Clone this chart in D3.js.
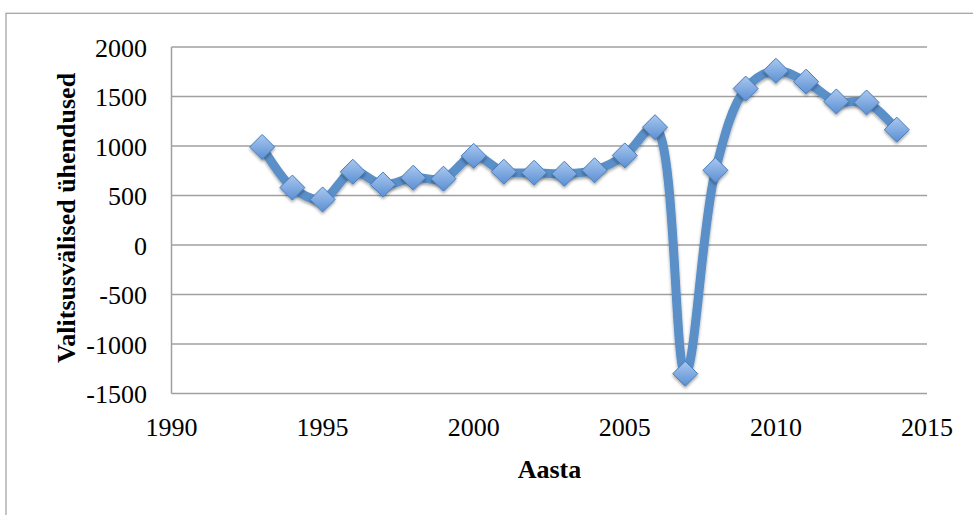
<!DOCTYPE html>
<html><head><meta charset="utf-8">
<script src="https://cdn.jsdelivr.net/npm/d3@7"></script>
<style>body{margin:0;background:#fff;}svg{display:block;}</style>
</head><body>
<script>
const years = [1993,1994,1995,1996,1997,1998,1999,2000,2001,2002,2003,2004,2005,2006,2007,2008,2009,2010,2011,2012,2013,2014];
const values = [990,580,460,740,610,680,670,900,740,730,720,755,905,1190,-1300,755,1580,1760,1650,1450,1440,1165];
const xTicks = [1990,1995,2000,2005,2010,2015];
const yTicks = [-1500,-1000,-500,0,500,1000,1500,2000];
const xTitle = "Aasta";
const yTitle = "Valitsusvälised ühendused";

const W=973,H=515;
const svg=d3.select("body").append("svg").attr("width",W).attr("height",H);
const defs=svg.append("defs");
const g1=defs.append("linearGradient").attr("id","mk").attr("x1",0).attr("y1",0).attr("x2",0).attr("y2",1);
g1.append("stop").attr("offset","0%").attr("stop-color","#a9c8ef");
g1.append("stop").attr("offset","100%").attr("stop-color","#5b8fd3");
const f=defs.append("filter").attr("id","sh").attr("x","-50%").attr("y","-50%").attr("width","200%").attr("height","200%");
f.append("feDropShadow").attr("dx",0).attr("dy",2).attr("stdDeviation",1.5).attr("flood-color","#000").attr("flood-opacity",0.35);

svg.append("rect").attr("x",6).attr("y",13.3).attr("width",990).attr("height",520).attr("fill","none").attr("stroke","#a6a6a6").attr("stroke-width",1.3);

const L=171.5,R=927,T=47,B=393.5;
const x=d3.scaleLinear().domain([1990,2015]).range([L,R]);
const y=d3.scaleLinear().domain([-1500,2000]).range([B,T]);
const font="'Liberation Serif','Times New Roman',serif";

svg.append("g").selectAll("line").data(yTicks).join("line")
 .attr("x1",L).attr("x2",R).attr("y1",d=>y(d)).attr("y2",d=>y(d))
 .attr("stroke","#a0a0a0").attr("stroke-width",1.5);
svg.append("line").attr("x1",L).attr("x2",L).attr("y1",T).attr("y2",B).attr("stroke","#a0a0a0").attr("stroke-width",1.5);

svg.append("g").selectAll("text").data(yTicks).join("text")
 .attr("x",147).attr("y",d=>y(d)+9.5).attr("text-anchor","end")
 .attr("font-family",font).attr("font-size",26).text(d=>d);
svg.append("g").selectAll("text").data(xTicks).join("text")
 .attr("x",d=>x(d)).attr("y",436).attr("text-anchor","middle")
 .attr("font-family",font).attr("font-size",26).text(d=>d);

svg.append("text").attr("x",549.5).attr("y",478).attr("text-anchor","middle")
 .attr("font-family",font).attr("font-size",26).attr("font-weight","bold").text(xTitle);
svg.append("text").attr("transform","translate(75,218) rotate(-90)").attr("text-anchor","middle")
 .attr("font-family",font).attr("font-size",26).attr("font-weight","bold").text(yTitle);

const data=years.map((yr,i)=>({yr,v:values[i]}));
const line=d3.line().x(d=>x(d.yr)).y(d=>y(d.v)).curve(d3.curveCatmullRom.alpha(0.5));
svg.append("path").datum(data).attr("d",line).attr("fill","none")
 .attr("stroke","#5a8fc8").attr("stroke-width",9).attr("stroke-linejoin","round").attr("filter","url(#sh)");

const s=12.5;
svg.append("g").selectAll("path").data(data).join("path")
 .attr("d",d=>{const cx=x(d.yr),cy=y(d.v);return `M${cx},${cy-s}L${cx+s},${cy}L${cx},${cy+s}L${cx-s},${cy}Z`;})
 .attr("fill","url(#mk)").attr("stroke","#4a7ebb").attr("stroke-width",1).attr("filter","url(#sh)");
</script>
</body></html>
